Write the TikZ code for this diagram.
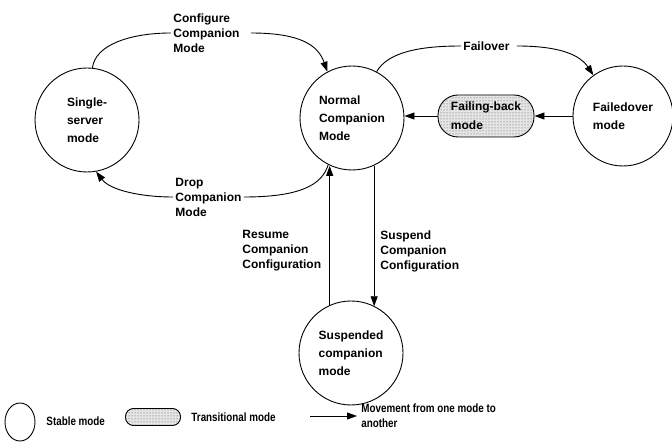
\documentclass[tikz,border=0pt]{standalone}
\usepackage{fontspec}
\setmainfont{Liberation Sans}
\newfontfamily\legfont{Liberation Sans}[FakeStretch=0.82]
\usetikzlibrary{arrows.meta,patterns,shapes.geometric}
\begin{document}
\begin{tikzpicture}[x=1pt,y=-1pt,line width=0.9pt,
  stable/.style={circle,draw,minimum size=104pt,inner sep=0pt,align=left,
    font=\fontsize{12}{18}\selectfont\bfseries},
  trans/.style={draw,rounded corners=#1,fill=gray!20,
    postaction={pattern=dots,pattern color=black!70},align=left,
    font=\fontsize{12}{19}\selectfont\bfseries},
  lbl/.style={align=left,inner sep=2pt,font=\fontsize{12}{15}\selectfont\bfseries},
  leg/.style={align=left,anchor=west,inner sep=1pt,font=\fontsize{12}{15}\selectfont\legfont\bfseries},
  arr/.style={-{Triangle[length=10pt,width=7pt]}}]
\useasboundingbox (0,0) rectangle (672,443);

% states
\node[stable] (single) at (87,120) {Single-\\server\\mode};
\node[stable] (normal) at (352,118) {Normal\\Companion\\Mode};
\node[stable,minimum size=100pt] (failed) at (623,116) {Failedover\\mode};
\node[stable] (susp) at (351,353) {Suspended\\companion\\mode};
\node[trans=20pt,minimum width=96pt,minimum height=42pt] (fb) at (486,116) {Failing-back\\mode};

% labels
\node[lbl,anchor=west] (cfg) at (171,33) {Configure\\Companion\\Mode};
\node[lbl,anchor=west] (drop) at (173,197) {Drop\\Companion\\Mode};
\node[lbl,anchor=west] (fo) at (461,46) {Failover};
\node[lbl,anchor=west] (res) at (240,251) {Resume\\Companion\\Configuration};
\node[lbl,anchor=west] (sus) at (378,251) {Suspend\\Companion\\Configuration};

% connectors
\draw (single.84) .. controls (95,45) and (130,33) .. (cfg.west);
\draw[arr] ([xshift=9pt]cfg.east) .. controls (300,33) and (318,45) .. (normal.118);
\draw (normal.62) .. controls (388,52) and (420,46) .. (fo.west);
\draw[arr] ([xshift=5pt]fo.east) .. controls (560,46) and (580,55) .. (failed.126);
\draw (normal.243) .. controls (322,185) and (300,197) .. (drop.east);
\draw[arr] (drop.west) .. controls (140,197) and (110,190) .. (single.280);
\draw[arr] (failed.west) -- (fb.east);
\draw[arr] (fb.west) -- (fb.west -| normal.east);
\path (susp.114) coordinate (r1);
\draw[arr] (r1) -- (r1 |- normal.246);
\path (normal.295) coordinate (s1);
\draw[arr] (s1) -- (s1 |- susp.63);

% legend
\node[ellipse,draw,minimum width=30pt,minimum height=38pt,inner sep=0pt] (lc) at (20,422) {};
\node[leg] (lct) at (45,421) {Stable mode};
\node[trans=8pt,minimum width=55pt,minimum height=17pt,inner sep=0pt] (lr) at (153,417) {};
\node[leg] (lrt) at (190,417) {Transitional mode};
\coordinate (la1) at (310,416);
\coordinate (la2) at (357,416);
\draw[arr] (la1) -- (la2);
\node[leg] (lat) at (360,416) {Movement from one mode to\\another};
\end{tikzpicture}
\end{document}
